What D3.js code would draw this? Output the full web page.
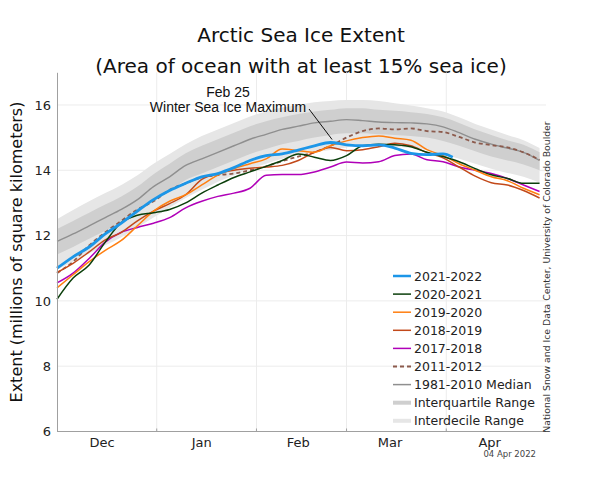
<!DOCTYPE html>
<html>
<head>
<meta charset="utf-8">
<script src="https://cdn.jsdelivr.net/npm/d3@7"></script>
<style>
  body { margin: 0; background: #fff; }
  svg { display: block; font-family: "DejaVu Sans", sans-serif; }
</style>
</head>
<body>
<div id="chart"></div>
<script>
// days counted from Dec 1
const days = [0,5,10,15,20,25,30,35,40,45,50,55,60,65,70,75,80,85,90,95,100,105,110,115,120,125,130,135,140,145,150];
const days2122 = [0,5,10,15,20,25,30,35,40,45,50,55,60,65,70,75,80,85,90,95,100,105,110,115,120,123];

const median = [11.82,12.05,12.3,12.55,12.8,13.1,13.5,13.8,14.15,14.35,14.55,14.75,14.95,15.1,15.25,15.35,15.45,15.5,15.55,15.52,15.48,15.46,15.45,15.42,15.33,15.15,14.95,14.8,14.68,14.55,14.3];
const iqLow  = [11.42,11.65,11.9,12.15,12.4,12.7,13.05,13.35,13.7,13.9,14.1,14.3,14.5,14.65,14.8,14.9,15.0,15.08,15.13,15.13,15.1,15.08,15.05,15.0,14.9,14.75,14.58,14.42,14.3,14.18,14.0];
const iqHigh = [12.2,12.45,12.7,12.95,13.2,13.5,13.88,14.2,14.52,14.75,14.95,15.15,15.35,15.5,15.62,15.72,15.8,15.85,15.9,15.9,15.85,15.82,15.78,15.72,15.62,15.45,15.25,15.08,14.92,14.78,14.55];
const idLow  = [10.95,11.2,11.45,11.7,11.95,12.25,12.55,12.85,13.15,13.4,13.65,13.85,14.05,14.2,14.35,14.45,14.55,14.62,14.7,14.77,14.75,14.72,14.68,14.62,14.5,14.35,14.2,14.05,13.92,13.8,13.62];
const idHigh = [12.5,12.78,13.05,13.3,13.55,13.85,14.2,14.5,14.8,15.05,15.25,15.45,15.65,15.8,15.92,16.0,16.08,16.12,16.15,16.15,16.12,16.05,15.98,15.9,15.8,15.62,15.42,15.25,15.08,14.92,14.68];

const y2021 = [11.0,11.35,11.65,12.05,12.38,12.75,13.1,13.38,13.6,13.8,13.9,14.08,14.3,14.45,14.5,14.62,14.75,14.85,14.78,14.75,14.78,14.68,14.52,14.48,14.5,14.4];
const y2020 = [10.05,10.7,11.1,11.8,12.4,12.62,12.7,12.8,13.0,13.3,13.55,13.78,13.95,14.12,14.3,14.5,14.4,14.3,14.45,14.75,14.8,14.78,14.72,14.55,14.42,14.26,14.05,13.86,13.75,13.6,13.6];
const y2019 = [10.4,10.8,11.2,11.55,11.85,12.3,12.75,13.05,13.25,13.55,13.85,14.05,14.2,14.35,14.65,14.6,14.55,14.75,14.9,15.0,15.05,14.98,14.92,14.63,14.45,14.2,14.0,13.8,13.68,13.45,13.25];
const y2018 = [10.87,11.15,11.5,11.87,12.1,12.45,12.75,12.98,13.25,13.72,13.9,14.0,14.06,14.1,14.15,14.3,14.55,14.7,14.6,14.63,14.72,14.83,14.75,14.54,14.38,14.1,13.82,13.62,13.55,13.38,13.15];
const y2017 = [10.55,10.85,11.3,11.8,12.1,12.25,12.38,12.55,12.85,13.05,13.2,13.3,13.45,13.85,13.87,13.87,13.95,14.1,14.25,14.22,14.26,14.45,14.5,14.32,14.26,14.1,14.0,13.9,13.75,13.55,13.35];
const y2011 = [10.85,11.2,11.7,12.1,12.45,12.8,13.05,13.4,13.6,13.78,13.85,13.9,14.0,14.12,14.28,14.42,14.55,14.75,15.0,15.2,15.28,15.25,15.28,15.2,15.17,15.02,14.85,14.77,14.7,14.55,14.32];

const monthStarts = [31, 62, 90, 121];
const monthLabels = ["Dec", "Jan", "Feb", "Mar", "Apr"];
const monthMids = [14, 45, 75, 103.5, 134.5];
const yTicks = [6, 8, 10, 12, 14, 16];

const W = 600, H = 480;
const svg = d3.select("#chart").append("svg").attr("width", W).attr("height", H);

const x = d3.scaleLinear().domain([0, 152]).range([57, 546]);
const y = d3.scaleLinear().domain([6, 17]).range([431.5, 72.3]);

// titles
svg.append("text").attr("x", 301).attr("y", 42).attr("text-anchor", "middle")
  .attr("font-size", 20).attr("fill", "#111").text("Arctic Sea Ice Extent");
svg.append("text").attr("x", 301).attr("y", 73).attr("text-anchor", "middle")
  .attr("font-size", 20).attr("fill", "#111").text("(Area of ocean with at least 15% sea ice)");

// grid
svg.append("g").selectAll("line").data(yTicks.slice(1)).enter().append("line")
  .attr("x1", x(0)).attr("x2", x(152)).attr("y1", d => y(d)).attr("y2", d => y(d))
  .attr("stroke", "#ececec").attr("stroke-width", 1);
svg.append("g").selectAll("line").data(monthStarts).enter().append("line")
  .attr("x1", d => x(d)).attr("x2", d => x(d)).attr("y1", y(6)).attr("y2", y(17))
  .attr("stroke", "#ececec").attr("stroke-width", 1);

// bands
const idArea = d3.area().x((d, i) => x(days[i])).y0((d, i) => y(idLow[i])).y1((d, i) => y(idHigh[i])).curve(d3.curveMonotoneX);
const iqArea = d3.area().x((d, i) => x(days[i])).y0((d, i) => y(iqLow[i])).y1((d, i) => y(iqHigh[i])).curve(d3.curveMonotoneX);
svg.append("path").attr("d", idArea(days)).attr("fill", "#e6e6e6");
svg.append("path").attr("d", iqArea(days)).attr("fill", "#cfcfcf");

const line = d3.line().x(d => x(d[0])).y(d => y(d[1])).curve(d3.curveMonotoneX);
const zip = (xs, ys) => xs.map((d, i) => [d, ys[i]]);

const series = [
  { name: "1981-2010 Median", x: days, v: median, color: "#8f8f8f", w: 1.4 },
  { name: "2011-2012", x: days, v: y2011, color: "#8c5a4c", w: 1.8, dash: "4,3" },
  { name: "2017-2018", x: days, v: y2017, color: "#b000b8", w: 1.5 },
  { name: "2018-2019", x: days, v: y2018, color: "#c2491a", w: 1.5 },
  { name: "2019-2020", x: days, v: y2019, color: "#ff7f10", w: 1.5 },
  { name: "2020-2021", x: days, v: y2020, color: "#0b3f0b", w: 1.5 },
  { name: "2021-2022", x: days2122, v: y2021, color: "#1c96e8", w: 2.8 }
];
series.forEach(s => {
  svg.append("path").attr("d", line(zip(s.x, s.v)))
    .attr("fill", "none").attr("stroke", s.color).attr("stroke-width", s.w)
    .attr("stroke-dasharray", s.dash || null).attr("stroke-linejoin", "round");
});

// axes
const yAxis = d3.axisLeft(y).tickValues(yTicks).tickSize(0).tickPadding(6);
const gy = svg.append("g").attr("transform", `translate(${x(0)},0)`).call(yAxis);
gy.select(".domain").attr("stroke", "#a0a0a0");
gy.selectAll("text").attr("font-size", 13).attr("fill", "#222").attr("font-family", "DejaVu Sans");

svg.append("line").attr("x1", x(0)).attr("x2", x(152)).attr("y1", y(6)).attr("y2", y(6))
  .attr("stroke", "#a0a0a0");
svg.append("g").selectAll("line").data(monthStarts).enter().append("line")
  .attr("x1", d => x(d)).attr("x2", d => x(d)).attr("y1", y(6)).attr("y2", y(6) - 3)
  .attr("stroke", "#a0a0a0");
svg.append("g").selectAll("text").data(monthLabels).enter().append("text")
  .attr("x", (d, i) => x(monthMids[i])).attr("y", 447).attr("text-anchor", "middle")
  .attr("font-size", 13).attr("fill", "#222").text(d => d);

svg.append("text").attr("transform", "translate(22,252) rotate(-90)").attr("text-anchor", "middle")
  .attr("font-size", 16).attr("fill", "#111").text("Extent (millions of square kilometers)");

svg.append("text").attr("transform", "translate(550,277) rotate(-90)").attr("text-anchor", "middle")
  .attr("font-size", 9.3).attr("fill", "#333").text("National Snow and Ice Data Center, University of Colorado Boulder");

svg.append("text").attr("x", 536).attr("y", 457).attr("text-anchor", "end")
  .attr("font-size", 8.5).attr("fill", "#444").text("04 Apr 2022");

// annotation
svg.append("text").attr("x", 228).attr("y", 97).attr("text-anchor", "middle")
  .attr("font-family", "Liberation Sans, Arial, sans-serif").attr("font-size", 14).attr("fill", "#111").text("Feb 25");
svg.append("text").attr("x", 228).attr("y", 112).attr("text-anchor", "middle")
  .attr("font-family", "Liberation Sans, Arial, sans-serif").attr("font-size", 14).attr("fill", "#111").text("Winter Sea Ice Maximum");
svg.append("line").attr("x1", 309).attr("y1", 109).attr("x2", x(85.5)).attr("y2", y(14.85) - 3)
  .attr("stroke", "#111").attr("stroke-width", 1);

// legend
const legendItems = [
  { name: "2021-2022", color: "#1c96e8", w: 2.5 },
  { name: "2020-2021", color: "#0b3f0b", w: 1.5 },
  { name: "2019-2020", color: "#ff7f10", w: 1.5 },
  { name: "2018-2019", color: "#c2491a", w: 1.5 },
  { name: "2017-2018", color: "#b000b8", w: 1.5 },
  { name: "2011-2012", color: "#8c5a4c", w: 1.8, dash: "4,3" },
  { name: "1981-2010 Median", color: "#8f8f8f", w: 1.5 },
  { name: "Interquartile Range", color: "#cfcfcf", w: 4 },
  { name: "Interdecile Range", color: "#e6e6e6", w: 4 }
];
const lg = svg.append("g").attr("transform", "translate(393,276)");
const li = lg.selectAll("g").data(legendItems).enter().append("g")
  .attr("transform", (d, i) => `translate(0,${i * 18.1})`);
li.append("line").attr("x1", 0).attr("x2", 18).attr("y1", 0).attr("y2", 0)
  .attr("stroke", d => d.color).attr("stroke-width", d => d.w).attr("stroke-dasharray", d => d.dash || null);
li.append("text").attr("x", 21).attr("y", 4.5).attr("font-size", 12.5).attr("fill", "#222").text(d => d.name);
</script>
</body>
</html>
